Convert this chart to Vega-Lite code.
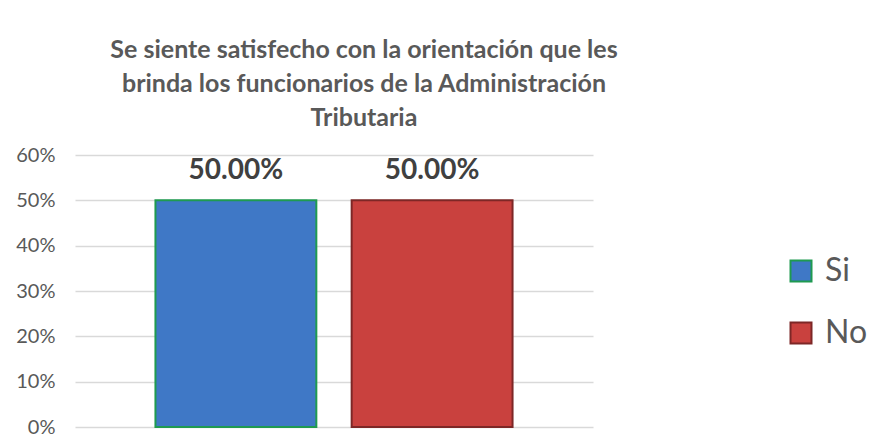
{
  "$schema": "https://vega.github.io/schema/vega-lite/v6.json",
  "width": 518,
  "height": 272,
  "autosize": {"type": "none"},
  "padding": {"left": 75, "top": 155, "right": 279, "bottom": 16},
  "background": "white",
  "config": {"view": {"stroke": null}, "font": "Lato"},
  "title": {
    "text": ["Se siente satisfecho con la orientación que les", "brinda los funcionarios de la Administración", "Tributaria"],
    "font": "Lato",
    "fontSize": 25,
    "fontWeight": "bold",
    "color": "#595959",
    "anchor": "middle",
    "frame": "group",
    "dx": 30,
    "lineHeight": 34,
    "offset": 14
  },
  "data": {"values": [
    {"respuesta": "Si", "porcentaje": 0.5},
    {"respuesta": "No", "porcentaje": 0.5}
  ]},
  "encoding": {
    "x": {"field": "respuesta", "type": "nominal", "sort": ["Si", "No"],
      "scale": {"paddingInner": 0.18, "paddingOuter": 0.41}, "axis": null},
    "y": {"field": "porcentaje", "type": "quantitative",
      "scale": {"domain": [0, 0.6]},
      "axis": {"format": ".0%", "values": [0, 0.1, 0.2, 0.3, 0.4, 0.5, 0.6], "title": null,
        "domain": false, "ticks": false, "labelPadding": 20, "labelFontSize": 20,
        "labelColor": "#595959", "labelFont": "Lato", "gridColor": "#d9d9d9", "gridWidth": 1.5}}
  },
  "layer": [
    {
      "mark": {"type": "bar", "strokeWidth": 2},
      "encoding": {
        "color": {"field": "respuesta", "type": "nominal", "sort": ["Si", "No"],
          "scale": {"domain": ["Si", "No"], "range": ["#3f78c6", "#c9413e"]},
          "legend": {"title": null, "orient": "none", "legendX": 710, "legendY": 100,
            "symbolType": "square", "symbolSize": 441, "symbolStrokeWidth": 2, "labelFontSize": 32,
            "labelColor": "#595959", "labelFont": "Lato", "rowPadding": 30, "labelOffset": 8, "labelLimit": 200}},
        "stroke": {"field": "respuesta", "type": "nominal", "sort": ["Si", "No"],
          "scale": {"domain": ["Si", "No"], "range": ["#1f9a50", "#7d2726"]}}
      }
    },
    {
      "mark": {"type": "text", "dy": -21, "baseline": "alphabetic", "fontSize": 28, "fontWeight": "bold", "color": "#404040", "font": "Lato"},
      "encoding": {"text": {"field": "porcentaje", "type": "quantitative", "format": ".2%"}}
    }
  ]
}
